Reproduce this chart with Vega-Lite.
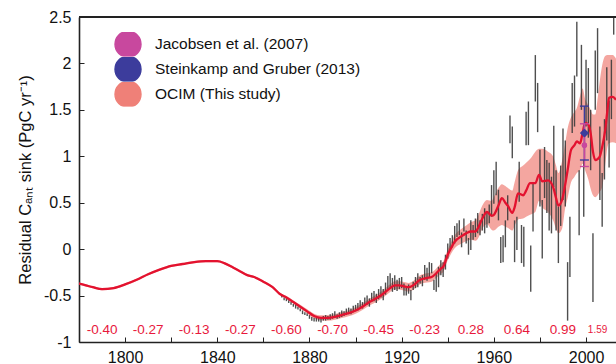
{
 "$schema": "https://vega.github.io/schema/vega-lite/v6.json",
 "width": 537, "height": 325,
 "autosize": {"type": "none"},
 "padding": {"left": 79, "top": 17, "right": 0, "bottom": 22},
 "background": "white",
 "config": {"view": {"stroke": null}, "font": "Liberation Sans"},
 "datasets": {
  "ocim": [
   {"year":1780,"mean":-0.37,"lo":-0.382,"hi":-0.358},{"year":1783,"mean":-0.39,"lo":-0.402,"hi":-0.378},{"year":1786,"mean":-0.41,"lo":-0.422,"hi":-0.398},{"year":1790,"mean":-0.43,"lo":-0.442,"hi":-0.418},{"year":1795,"mean":-0.42,"lo":-0.432,"hi":-0.408},{"year":1800,"mean":-0.38,"lo":-0.392,"hi":-0.368},{"year":1805,"mean":-0.33,"lo":-0.342,"hi":-0.318},{"year":1810,"mean":-0.27,"lo":-0.282,"hi":-0.258},{"year":1815,"mean":-0.22,"lo":-0.232,"hi":-0.208},{"year":1820,"mean":-0.18,"lo":-0.192,"hi":-0.168},{"year":1825,"mean":-0.16,"lo":-0.172,"hi":-0.148},{"year":1830,"mean":-0.14,"lo":-0.152,"hi":-0.128},{"year":1835,"mean":-0.13,"lo":-0.142,"hi":-0.118},{"year":1840,"mean":-0.13,"lo":-0.142,"hi":-0.118},{"year":1843,"mean":-0.15,"lo":-0.162,"hi":-0.138},{"year":1847,"mean":-0.20,"lo":-0.212,"hi":-0.188},{"year":1850,"mean":-0.24,"lo":-0.252,"hi":-0.228},{"year":1853,"mean":-0.28,"lo":-0.292,"hi":-0.268},{"year":1856,"mean":-0.30,"lo":-0.312,"hi":-0.288},{"year":1860,"mean":-0.35,"lo":-0.362,"hi":-0.338},{"year":1864,"mean":-0.41,"lo":-0.422,"hi":-0.398},{"year":1867,"mean":-0.48,"lo":-0.493,"hi":-0.467},{"year":1870,"mean":-0.52,"lo":-0.535,"hi":-0.505},{"year":1873,"mean":-0.57,"lo":-0.588,"hi":-0.552},{"year":1876,"mean":-0.62,"lo":-0.64,"hi":-0.60},{"year":1879,"mean":-0.67,"lo":-0.692,"hi":-0.648},{"year":1882,"mean":-0.72,"lo":-0.745,"hi":-0.695},{"year":1885,"mean":-0.74,"lo":-0.767,"hi":-0.713},{"year":1888,"mean":-0.74,"lo":-0.77,"hi":-0.71},{"year":1891,"mean":-0.73,"lo":-0.76,"hi":-0.70},{"year":1894,"mean":-0.71,"lo":-0.742,"hi":-0.678},{"year":1897,"mean":-0.69,"lo":-0.723,"hi":-0.657},{"year":1900,"mean":-0.66,"lo":-0.695,"hi":-0.625},{"year":1903,"mean":-0.62,"lo":-0.656,"hi":-0.584},{"year":1906,"mean":-0.57,"lo":-0.607,"hi":-0.533},{"year":1909,"mean":-0.53,"lo":-0.568,"hi":-0.492},{"year":1912,"mean":-0.48,"lo":-0.52,"hi":-0.44},{"year":1915,"mean":-0.42,"lo":-0.462,"hi":-0.378},{"year":1917,"mean":-0.39,"lo":-0.433,"hi":-0.347},{"year":1919,"mean":-0.39,"lo":-0.435,"hi":-0.345},{"year":1921,"mean":-0.40,"lo":-0.445,"hi":-0.355},{"year":1923,"mean":-0.41,"lo":-0.456,"hi":-0.364},{"year":1925,"mean":-0.39,"lo":-0.437,"hi":-0.343},{"year":1928,"mean":-0.33,"lo":-0.378,"hi":-0.282},{"year":1931,"mean":-0.31,"lo":-0.36,"hi":-0.26},{"year":1933,"mean":-0.30,"lo":-0.35,"hi":-0.25},{"year":1935,"mean":-0.26,"lo":-0.312,"hi":-0.208},{"year":1937,"mean":-0.21,"lo":-0.265,"hi":-0.155},{"year":1938,"mean":-0.19,"lo":-0.245,"hi":-0.135},{"year":1940,"mean":-0.06,"lo":-0.12,"hi":0.0},{"year":1941,"mean":-0.01,"lo":-0.07,"hi":0.05},{"year":1943,"mean":0.08,"lo":0.01,"hi":0.15},{"year":1946,"mean":0.14,"lo":0.06,"hi":0.22},{"year":1948,"mean":0.17,"lo":0.085,"hi":0.255},{"year":1950,"mean":0.19,"lo":0.10,"hi":0.29},{"year":1952,"mean":0.19,"lo":0.09,"hi":0.31},{"year":1953,"mean":0.22,"lo":0.11,"hi":0.35},{"year":1955,"mean":0.33,"lo":0.22,"hi":0.47},{"year":1957,"mean":0.40,"lo":0.27,"hi":0.53},{"year":1959,"mean":0.36,"lo":0.21,"hi":0.52},{"year":1960,"mean":0.37,"lo":0.20,"hi":0.56},{"year":1962,"mean":0.47,"lo":0.24,"hi":0.66},{"year":1963.5,"mean":0.55,"lo":0.26,"hi":0.70},{"year":1965,"mean":0.50,"lo":0.24,"hi":0.68},{"year":1966,"mean":0.47,"lo":0.23,"hi":0.66},{"year":1968,"mean":0.39,"lo":0.20,"hi":0.63},{"year":1969,"mean":0.45,"lo":0.25,"hi":0.72},{"year":1970.5,"mean":0.60,"lo":0.32,"hi":0.85},{"year":1972.7,"mean":0.58,"lo":0.33,"hi":0.90},{"year":1974,"mean":0.63,"lo":0.35,"hi":0.93},{"year":1975.7,"mean":0.71,"lo":0.37,"hi":0.97},{"year":1978,"mean":0.71,"lo":0.40,"hi":1.05},{"year":1979.6,"mean":0.80,"lo":0.52,"hi":1.08},{"year":1981,"mean":0.73,"lo":0.45,"hi":1.08},{"year":1983.5,"mean":0.74,"lo":0.40,"hi":1.05},{"year":1985.7,"mean":0.67,"lo":0.31,"hi":1.00},{"year":1987,"mean":0.55,"lo":0.22,"hi":0.90},{"year":1988,"mean":0.47,"lo":0.17,"hi":0.82},{"year":1989.6,"mean":0.53,"lo":0.22,"hi":0.95},{"year":1991,"mean":0.70,"lo":0.45,"hi":1.15},{"year":1992,"mean":0.85,"lo":0.55,"hi":1.30},{"year":1993.5,"mean":1.07,"lo":0.72,"hi":1.42},{"year":1995,"mean":1.12,"lo":0.78,"hi":1.48},{"year":1996,"mean":1.16,"lo":0.82,"hi":1.52},{"year":1997.4,"mean":1.14,"lo":0.85,"hi":1.65},{"year":1998.5,"mean":1.25,"lo":0.92,"hi":1.73},{"year":1999.6,"mean":1.36,"lo":0.85,"hi":1.62},{"year":2001,"mean":1.34,"lo":0.75,"hi":1.55},{"year":2002,"mean":1.25,"lo":0.65,"hi":1.50},{"year":2003,"mean":1.05,"lo":0.58,"hi":1.45},{"year":2004,"mean":0.96,"lo":0.56,"hi":1.45},{"year":2005,"mean":0.97,"lo":0.58,"hi":1.62},{"year":2006,"mean":1.00,"lo":0.62,"hi":1.82},{"year":2007,"mean":1.10,"lo":0.67,"hi":1.98},{"year":2008.3,"mean":1.28,"lo":0.90,"hi":2.08},{"year":2009.3,"mean":1.50,"lo":1.10,"hi":2.09},{"year":2010,"mean":1.63,"lo":1.14,"hi":2.09},{"year":2011.5,"mean":1.64,"lo":1.15,"hi":2.09},{"year":2013,"mean":1.61,"lo":1.14,"hi":2.05}
  ],
  "bars": [
   {"year":1868,"lo":-0.52,"hi":-0.49},{"year":1869,"lo":-0.55,"hi":-0.52},{"year":1870,"lo":-0.56,"hi":-0.53},{"year":1871,"lo":-0.58,"hi":-0.55},{"year":1872,"lo":-0.60,"hi":-0.57},{"year":1873,"lo":-0.62,"hi":-0.59},{"year":1874,"lo":-0.64,"hi":-0.60},{"year":1875,"lo":-0.65,"hi":-0.62},{"year":1876,"lo":-0.67,"hi":-0.64},{"year":1877,"lo":-0.70,"hi":-0.66},{"year":1878,"lo":-0.71,"hi":-0.68},{"year":1879,"lo":-0.72,"hi":-0.69},{"year":1880,"lo":-0.75,"hi":-0.71},{"year":1881,"lo":-0.77,"hi":-0.73},{"year":1882,"lo":-0.78,"hi":-0.74},{"year":1883,"lo":-0.78,"hi":-0.74},{"year":1884,"lo":-0.78,"hi":-0.73},{"year":1885,"lo":-0.79,"hi":-0.74},{"year":1886,"lo":-0.77,"hi":-0.72},{"year":1887,"lo":-0.77,"hi":-0.71},{"year":1888,"lo":-0.76,"hi":-0.72},{"year":1889,"lo":-0.76,"hi":-0.70},{"year":1890,"lo":-0.75,"hi":-0.69},{"year":1891,"lo":-0.74,"hi":-0.67},{"year":1892,"lo":-0.75,"hi":-0.70},{"year":1893,"lo":-0.74,"hi":-0.68},{"year":1894,"lo":-0.73,"hi":-0.66},{"year":1895,"lo":-0.72,"hi":-0.67},{"year":1896,"lo":-0.71,"hi":-0.64},{"year":1897,"lo":-0.70,"hi":-0.63},{"year":1898,"lo":-0.70,"hi":-0.64},{"year":1899,"lo":-0.68,"hi":-0.61},{"year":1900,"lo":-0.67,"hi":-0.60},{"year":1901,"lo":-0.66,"hi":-0.58},{"year":1902,"lo":-0.63,"hi":-0.55},{"year":1903,"lo":-0.64,"hi":-0.57},{"year":1904,"lo":-0.61,"hi":-0.52},{"year":1905,"lo":-0.60,"hi":-0.50},{"year":1906,"lo":-0.62,"hi":-0.53},{"year":1907,"lo":-0.57,"hi":-0.47},{"year":1908,"lo":-0.56,"hi":-0.45},{"year":1909,"lo":-0.58,"hi":-0.48},{"year":1910,"lo":-0.54,"hi":-0.43},{"year":1911,"lo":-0.52,"hi":-0.40},{"year":1912,"lo":-0.55,"hi":-0.43},{"year":1913,"lo":-0.49,"hi":-0.36},{"year":1914,"lo":-0.44,"hi":-0.29},{"year":1915,"lo":-0.42,"hi":-0.26},{"year":1916,"lo":-0.46,"hi":-0.31},{"year":1917,"lo":-0.44,"hi":-0.28},{"year":1918,"lo":-0.45,"hi":-0.33},{"year":1919,"lo":-0.43,"hi":-0.31},{"year":1920,"lo":-0.42,"hi":-0.30},{"year":1921,"lo":-0.50,"hi":-0.37},{"year":1922,"lo":-0.50,"hi":-0.41},{"year":1923,"lo":-0.48,"hi":-0.38},{"year":1924,"lo":-0.55,"hi":-0.44},{"year":1925,"lo":-0.44,"hi":-0.35},{"year":1926,"lo":-0.42,"hi":-0.30},{"year":1927,"lo":-0.41,"hi":-0.26},{"year":1928,"lo":-0.37,"hi":-0.30},{"year":1929,"lo":-0.40,"hi":-0.28},{"year":1930,"lo":-0.33,"hi":-0.17},{"year":1931,"lo":-0.34,"hi":-0.20},{"year":1932,"lo":-0.31,"hi":-0.14},{"year":1933,"lo":-0.26,"hi":-0.15},{"year":1934,"lo":-0.44,"hi":-0.33},{"year":1935,"lo":-0.46,"hi":-0.26},{"year":1936,"lo":-0.41,"hi":-0.19},{"year":1937,"lo":-0.28,"hi":-0.12},{"year":1938,"lo":-0.30,"hi":-0.14},{"year":1939,"lo":-0.22,"hi":-0.06},{"year":1940,"lo":-0.10,"hi":0.06},{"year":1941,"lo":-0.01,"hi":0.12},{"year":1942,"lo":0.02,"hi":0.15},{"year":1943,"lo":0.06,"hi":0.25},{"year":1944,"lo":0.13,"hi":0.28},{"year":1945,"lo":0.15,"hi":0.31},{"year":1946,"lo":0.02,"hi":0.18},{"year":1947,"lo":0.19,"hi":0.33},{"year":1948,"lo":0.06,"hi":0.20},{"year":1949,"lo":-0.06,"hi":0.12},{"year":1950,"lo":-0.01,"hi":0.31},{"year":1951,"lo":0.10,"hi":0.26},{"year":1952,"lo":0.13,"hi":0.33},{"year":1953,"lo":0.17,"hi":0.39},{"year":1954,"lo":0.15,"hi":0.31},{"year":1955,"lo":0.20,"hi":0.38},{"year":1956,"lo":0.17,"hi":0.44},{"year":1957,"lo":0.23,"hi":0.40},{"year":1958,"lo":0.28,"hi":0.48},{"year":1959,"lo":0.35,"hi":0.69},{"year":1960,"lo":0.49,"hi":0.85},{"year":1961,"lo":0.58,"hi":0.94},{"year":1962,"lo":0.31,"hi":0.64},{"year":1963,"lo":-0.15,"hi":0.13},{"year":1964,"lo":-0.14,"hi":0.15},{"year":1965,"lo":0.02,"hi":0.31},{"year":1966,"lo":0.31,"hi":0.58},{"year":1967,"lo":1.14,"hi":1.44},{"year":1968,"lo":0.98,"hi":1.32},{"year":1969,"lo":-0.14,"hi":0.31},{"year":1970,"lo":-0.01,"hi":0.35},{"year":1971,"lo":0.51,"hi":0.94},{"year":1972,"lo":-0.15,"hi":0.26},{"year":1973,"lo":-0.19,"hi":0.24},{"year":1974,"lo":1.12,"hi":1.48},{"year":1975,"lo":1.12,"hi":1.59},{"year":1976,"lo":-0.46,"hi":0.04},{"year":1977,"lo":0.19,"hi":0.71},{"year":1978,"lo":1.59,"hi":2.09},{"year":1979,"lo":1.26,"hi":1.79},{"year":1980,"lo":0.46,"hi":1.07},{"year":1981,"lo":-0.10,"hi":0.53},{"year":1982,"lo":0.55,"hi":1.10},{"year":1983,"lo":0.39,"hi":0.96},{"year":1984,"lo":0.20,"hi":0.93},{"year":1985,"lo":0.17,"hi":0.78},{"year":1986,"lo":0.67,"hi":1.33},{"year":1987,"lo":0.20,"hi":0.85},{"year":1988,"lo":-0.15,"hi":0.46},{"year":1989,"lo":0.25,"hi":0.90},{"year":1990,"lo":0.53,"hi":1.30},{"year":1991,"lo":0.46,"hi":1.17},{"year":1992,"lo":-0.77,"hi":-0.14},{"year":1993,"lo":-0.30,"hi":0.35},{"year":1994,"lo":1.25,"hi":1.79},{"year":1995,"lo":1.32,"hi":1.87},{"year":1996,"lo":1.86,"hi":2.45},{"year":1997,"lo":0.15,"hi":0.85},{"year":1998,"lo":1.50,"hi":2.20},{"year":1999,"lo":0.35,"hi":0.96},{"year":2000,"lo":1.32,"hi":2.04},{"year":2001,"lo":1.20,"hi":1.95},{"year":2002,"lo":0.85,"hi":1.50},{"year":2003,"lo":-0.57,"hi":0.17},{"year":2004,"lo":1.50,"hi":2.14},{"year":2005,"lo":1.68,"hi":2.38},{"year":2006,"lo":0.53,"hi":1.32},{"year":2007,"lo":0.24,"hi":0.82},{"year":2008,"lo":0.75,"hi":1.40},{"year":2009,"lo":1.17,"hi":1.96},{"year":2010,"lo":0.88,"hi":1.60},{"year":2011,"lo":1.40,"hi":2.04},{"year":2012,"lo":2.31,"hi":2.80}
  ],
  "obs": [
   {"series":"Steinkamp and Gruber (2013)","year":1999.3,"value":1.25,"lo":0.96,"hi":1.54},
   {"series":"Jacobsen et al. (2007)","year":1999.3,"value":1.12,"lo":0.89,"hi":1.35}
  ],
  "labels": [
   {"year":1790,"label":"-0.40"},{"year":1810,"label":"-0.27"},{"year":1830,"label":"-0.13"},{"year":1850,"label":"-0.27"},{"year":1870,"label":"-0.60"},{"year":1890,"label":"-0.70"},{"year":1910,"label":"-0.45"},{"year":1930,"label":"-0.23"},{"year":1950,"label":"0.28"},{"year":1970,"label":"0.64"},{"year":1990,"label":"0.99"},{"year":2005,"label":"1.59"}
  ],
  "frame": [{"top": 2.5}]
 },
 "layer": [
  {
   "data": {"name": "ocim"},
   "mark": {"type": "area", "color": "#ef8078", "opacity": 0.7, "interpolate": "monotone", "clip": true},
   "encoding": {
    "x": {"field": "year", "type": "quantitative",
      "scale": {"domain": [1780, 2013], "nice": false, "zero": false},
      "axis": {"title": null, "values": [1780,1800,1820,1840,1860,1880,1900,1920,1940,1960,1980,2000],
        "labelExpr": "datum.value % 40 == 0 ? '' + datum.value : ''",
        "tickSize": -5, "labelPadding": 12, "labelFontSize": 16, "labelColor": "#111", "labelFont": "Liberation Sans",
        "domainColor": "#222", "domainWidth": 1.6, "tickColor": "#222", "tickWidth": 1, "grid": false, "labelFlush": false, "labelOverlap": false}},
    "y": {"field": "lo", "type": "quantitative",
      "scale": {"domain": [-1, 2.5], "nice": false, "zero": false},
      "axis": {"title": "Residual Cₐₙₜ sink (PgC yr⁻¹)", "values": [-1,-0.5,0,0.5,1,1.5,2,2.5],
        "labelExpr": "'' + datum.value",
        "tickSize": -5, "labelPadding": 13, "labelFontSize": 16, "labelColor": "#111", "labelFont": "Liberation Sans",
        "titleFontSize": 16.5, "titleFontWeight": "normal", "titleColor": "#111", "titleFont": "Liberation Sans", "titlePadding": 10,
        "domainColor": "#222", "domainWidth": 1.6, "tickColor": "#222", "tickWidth": 1, "grid": false, "labelFlush": false, "labelOverlap": false}},
    "y2": {"field": "hi"}
   }
  },
  {
   "data": {"name": "bars"},
   "mark": {"type": "rule", "color": "#3c3c3c", "strokeWidth": 1.4, "opacity": 0.9, "clip": true},
   "encoding": {
    "x": {"field": "year", "type": "quantitative"},
    "y": {"field": "lo", "type": "quantitative"},
    "y2": {"field": "hi"}
   }
  },
  {
   "data": {"name": "ocim"},
   "mark": {"type": "line", "color": "#e3122f", "strokeWidth": 2.3, "interpolate": "monotone", "clip": true},
   "encoding": {
    "x": {"field": "year", "type": "quantitative"},
    "y": {"field": "mean", "type": "quantitative"}
   }
  },
  {
   "data": {"name": "obs"},
   "mark": {"type": "point", "filled": true, "opacity": 1},
   "encoding": {
    "x": {"field": "year", "type": "quantitative"},
    "y": {"field": "value", "type": "quantitative"},
    "shape": {"field": "series", "type": "nominal", "legend": null,
      "scale": {"domain": ["Jacobsen et al. (2007)", "Steinkamp and Gruber (2013)"], "range": ["circle", "diamond"]}},
    "size": {"field": "series", "type": "nominal", "legend": null,
      "scale": {"domain": ["Jacobsen et al. (2007)", "Steinkamp and Gruber (2013)"], "range": [28, 75]}},
    "color": {"field": "series", "type": "nominal",
      "scale": {"domain": ["Jacobsen et al. (2007)", "Steinkamp and Gruber (2013)", "OCIM (This study)"], "range": ["#c8489e", "#3c3c9c", "#ef8078"]},
      "legend": {"title": null, "orient": "none", "legendX": 35, "legendY": 15,
        "symbolSize": 676, "labelFontSize": 15.5, "labelFont": "Liberation Sans", "labelColor": "#111", "labelLimit": 400,
        "labelOffset": 13, "rowPadding": 0, "clipHeight": 24.5, "padding": 0, "symbolStrokeWidth": 1.4,
        "encode": {"symbols": {
          "shape": {"value": {"expr": "datum.value == 'OCIM (This study)' ? 'M-1,-0.45H1V0.45H-1Z' : (datum.value == 'Jacobsen et al. (2007)' ? 'M-1,0H1M0.2,0A0.2,0.2,0,1,1,-0.2,0A0.2,0.2,0,1,1,0.2,0Z' : 'M-1,0H1M0,-0.3L0.3,0L0,0.3L-0.3,0Z')"}},
          "fill": {"value": {"expr": "scale('color', datum.value)"}},
          "stroke": {"value": {"expr": "scale('color', datum.value)"}},
          "strokeWidth": {"value": 1.4},
          "opacity": {"value": 1},
          "fillOpacity": {"value": 1},
          "strokeOpacity": {"value": 1}
        }}}}
   }
  },
  {
   "data": {"name": "obs"},
   "mark": {"type": "rule", "strokeWidth": 1.5},
   "encoding": {
    "x": {"field": "year", "type": "quantitative"},
    "y": {"field": "lo", "type": "quantitative"},
    "y2": {"field": "hi"},
    "color": {"field": "series", "type": "nominal"}
   }
  },
  {
   "data": {"name": "obs"},
   "mark": {"type": "tick", "orient": "horizontal", "size": 9, "thickness": 1.4, "opacity": 1},
   "encoding": {
    "x": {"field": "year", "type": "quantitative"},
    "y": {"field": "lo", "type": "quantitative"},
    "color": {"field": "series", "type": "nominal"}
   }
  },
  {
   "data": {"name": "obs"},
   "mark": {"type": "tick", "orient": "horizontal", "size": 9, "thickness": 1.4, "opacity": 1},
   "encoding": {
    "x": {"field": "year", "type": "quantitative"},
    "y": {"field": "hi", "type": "quantitative"},
    "color": {"field": "series", "type": "nominal"}
   }
  },
  {
   "data": {"name": "obs"},
   "mark": {"type": "point", "filled": true, "opacity": 1},
   "encoding": {
    "x": {"field": "year", "type": "quantitative"},
    "y": {"field": "value", "type": "quantitative"},
    "shape": {"field": "series", "type": "nominal", "legend": null},
    "size": {"field": "series", "type": "nominal", "legend": null},
    "color": {"field": "series", "type": "nominal"}
   }
  },
  {
   "data": {"name": "labels"},
   "transform": [{"filter": "datum.year < 2000"}],
   "mark": {"type": "text", "color": "#e8183c", "align": "center", "baseline": "middle", "font": "Liberation Sans", "fontSize": 13.5},
   "encoding": {
    "x": {"field": "year", "type": "quantitative"},
    "y": {"datum": -0.87},
    "text": {"field": "label"}
   }
  },
  {
   "data": {"name": "labels"},
   "transform": [{"filter": "datum.year > 2000"}],
   "mark": {"type": "text", "color": "#e8183c", "align": "center", "baseline": "middle", "font": "Liberation Sans", "fontSize": 10},
   "encoding": {
    "x": {"field": "year", "type": "quantitative"},
    "y": {"datum": -0.87},
    "text": {"field": "label"}
   }
  },
  {
   "data": {"name": "frame"},
   "mark": {"type": "rule", "color": "#222", "strokeWidth": 1.8},
   "encoding": {"y": {"field": "top", "type": "quantitative"}}
  }
 ]
}
